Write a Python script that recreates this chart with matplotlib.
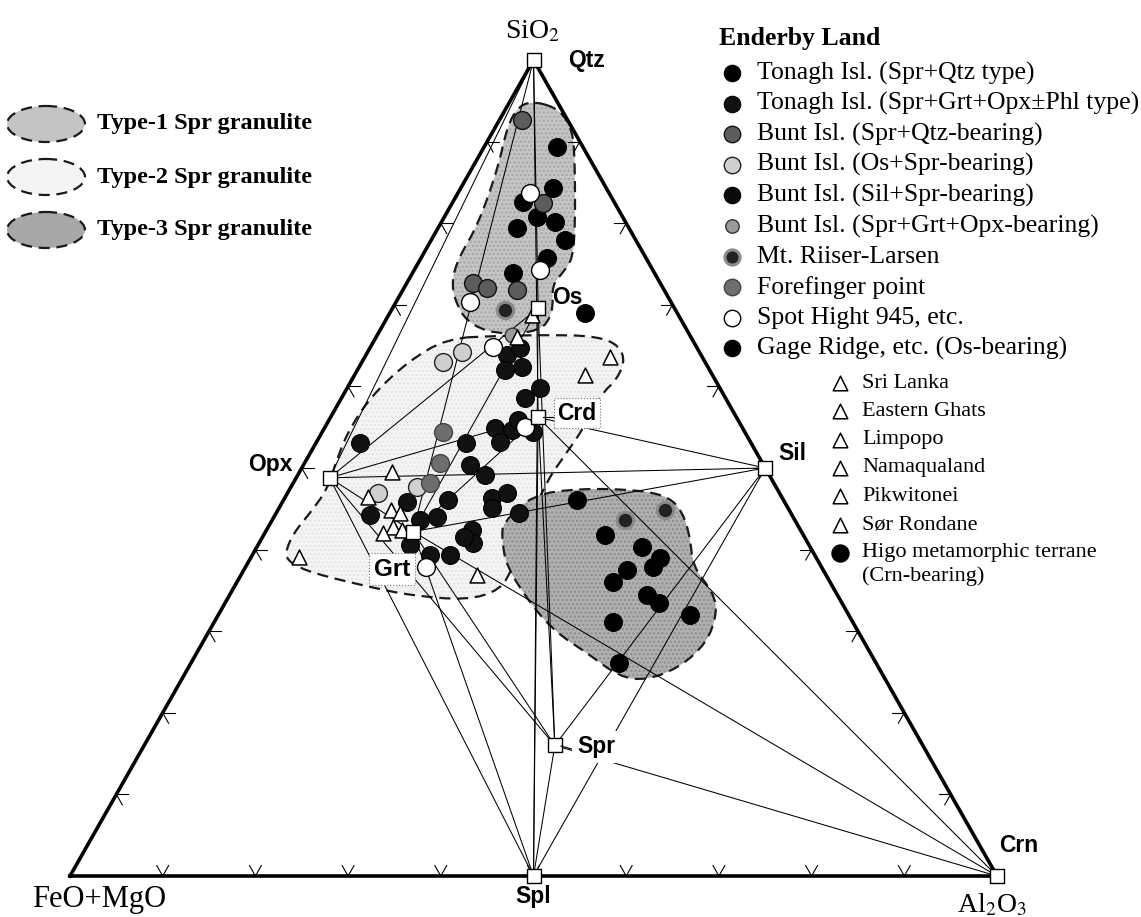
import numpy as np
import matplotlib
matplotlib.use("Agg")
import matplotlib.pyplot as plt
from matplotlib.patches import Polygon, Ellipse

plt.rcParams['font.family'] = ['Liberation Serif', 'DejaVu Serif']
plt.rcParams['mathtext.fontset'] = 'stix'
LABF = ['Liberation Sans', 'DejaVu Sans']

# triangle corners in figure pixels: FeO+MgO (left), Al2O3 (right), SiO2 (top)
L = np.array([70.0, 876.0])
R = np.array([997.0, 876.0])
T = np.array([533.5, 60.0])

def tern(si, al):
    si = np.asarray(si, float) / 100.0
    al = np.asarray(al, float) / 100.0
    fm = 1.0 - si - al
    return fm * L[0] + al * R[0] + si * T[0], fm * L[1] + al * R[1] + si * T[1]

# ---- data: (SiO2 %, Al2O3 %), FeO+MgO = rest ----
minerals = {
    "Qtz": (100.0, 0.0), "Opx": (48.8, 3.6), "Grt": (42.2, 15.9),
    "Os": (69.6, 15.7), "Crd": (56.2, 22.4), "Sil": (50.0, 50.0),
    "Spr": (16.0, 44.3), "Spl": (0.0, 50.0), "Crn": (0.0, 100.0),
}
tie_lines = [
    ("Qtz", "Opx"), ("Qtz", "Grt"), ("Qtz", "Os"), ("Qtz", "Crd"),
    ("Opx", "Os"), ("Opx", "Crd"), ("Opx", "Sil"), ("Opx", "Grt"), ("Opx", "Spr"), ("Opx", "Spl"),
    ("Grt", "Os"), ("Grt", "Crd"), ("Grt", "Sil"), ("Grt", "Spr"), ("Grt", "Spl"), ("Grt", "Crn"),
    ("Os", "Spl"), ("Os", "Spr"), ("Crd", "Spl"), ("Crd", "Spr"), ("Crd", "Sil"), ("Crd", "Crn"),
    ("Sil", "Spr"), ("Sil", "Spl"), ("Spr", "Spl"), ("Spr", "Crn"),
]

tonagh_qtz = [(89.3, 7.9), (84.3, 10.0), (82.6, 7.6), (80.8, 10.0), (80.1, 12.3),
              (79.4, 8.5), (77.9, 14.4), (75.7, 13.6), (73.9, 10.8)]
tonagh_grt = [(63.8, 15.2), (64.7, 16.2), (62.0, 15.9), (62.4, 17.6), (59.8, 20.8),
              (58.6, 19.8), (54.9, 18.4), (54.7, 20.3), (55.9, 20.4), (54.4, 22.7),
              (53.2, 19.8), (53.1, 16.2), (53.1, 4.7), (50.4, 17.9), (49.1, 20.2),
              (45.8, 13.5), (46.1, 17.7), (46.3, 22.4), (46.9, 23.7), (44.5, 26.2),
              (45.1, 23.0), (44.2, 10.3), (44.0, 17.6), (43.6, 16.0), (42.4, 22.2),
              (40.8, 23.1), (41.5, 21.8), (40.6, 16.4), (39.3, 19.2), (39.3, 21.3)]
bunt_qtz = [(92.6, 2.5), (82.5, 9.8), (72.7, 7.1), (72.1, 8.9), (71.8, 12.3)]
bunt_os = [(64.2, 10.2), (63.0, 8.7), (47.7, 13.6), (46.9, 9.8)]
bunt_grt = [(66.3, 14.5)]
riiser = [(69.4, 12.2), (43.6, 38.1), (44.8, 41.8)]
forefinger = [(54.4, 13.0), (50.6, 14.6), (48.2, 14.7)]
spot = [(83.7, 7.8), (74.3, 13.5), (70.3, 8.0), (64.8, 13.2), (55.0, 21.6), (37.9, 19.5)]
gage = [(69.0, 21.1)]
other_terranes = [(68.8, 15.4), (66.0, 15.2), (61.4, 24.9), (63.6, 26.4), (49.5, 10.0),
                  (46.4, 8.9), (44.9, 12.2), (44.5, 13.3), (42.8, 13.4), (42.0, 12.8),
                  (42.4, 14.6), (36.9, 25.5), (39.1, 5.2)]
higo = [(46.1, 31.6), (41.8, 36.8), (40.3, 41.6), (39.0, 44.1), (37.9, 43.9), (37.5, 41.3),
        (36.0, 40.6), (34.4, 45.0), (33.5, 46.8), (32.0, 50.9), (31.1, 43.0), (26.1, 46.2)]

type1_field = [(94.9, 2.9), (93.9, 5.9), (91.4, 8.5), (87.7, 10.6), (80.4, 14.3), (75.7, 16.4),
               (74.0, 16.2), (72.4, 15.8), (69.0, 17.6), (66.7, 17.35), (66.4, 12.6),
               (67.9, 8.85), (70.6, 6.2), (73.0, 4.7), (75.7, 4.05), (79.8, 4.1),
               (86.5, 2.85), (92.0, 1.2), (94.5, 1.25)]
type2_field = [(65.9, 7.75), (66.2, 13.3), (66.3, 18.65), (66.2, 23.0), (65.4, 26.1), (63.5, 28.15),
               (61.0, 28.6), (58.9, 27.75), (54.7, 27.95), (51.6, 27.6), (48.5, 27.25),
               (43.6, 27.8), (40.0, 28.5), (37.9, 28.85), (35.05, 28.9), (33.8, 25.9),
               (34.4, 19.5), (35.4, 14.7), (37.1, 7.65), (38.4, 4.5), (39.6, 3.4),
               (42.0, 3.1), (44.5, 3.65), (47.3, 4.05), (50.4, 3.4), (54.3, 2.75),
               (58.7, 3.05), (63.0, 4.9)]
type3_field = [(43.3, 25.05), (46.7, 26.55), (47.5, 31.25), (47.3, 37.85), (46.4, 41.5),
               (44.5, 43.85), (41.5, 46.15), (37.9, 48.25), (34.7, 52.05), (32.2, 53.7),
               (28.6, 54.4), (25.6, 53.0), (24.0, 50.2), (24.4, 47.1), (27.3, 42.15),
               (29.8, 37.6), (33.0, 33.4), (37.9, 28.15), (41.2, 26.0)]

enderby_labels = ["Tonagh Isl. (Spr+Qtz type)", "Tonagh Isl. (Spr+Grt+Opx\u00b1Phl type)",
                  "Bunt Isl. (Spr+Qtz-bearing)", "Bunt Isl. (Os+Spr-bearing)",
                  "Bunt Isl. (Sil+Spr-bearing)", "Bunt Isl. (Spr+Grt+Opx-bearing)",
                  "Mt. Riiser-Larsen", "Forefinger point", "Spot Hight 945, etc.",
                  "Gage Ridge, etc. (Os-bearing)"]
other_labels = ["Sri Lanka", "Eastern Ghats", "Limpopo", "Namaqualand", "Pikwitonei", "S\u00f8r Rondane"]
field_labels = ["Type-1 Spr granulite", "Type-2 Spr granulite", "Type-3 Spr granulite"]

# marker styles
styles = {
    "tq": dict(c="#000000", edgecolors="#000000", linewidths=0.8, s=165),
    "tg": dict(c="#111111", edgecolors="#000000", linewidths=0.8, s=165),
    "bq": dict(c="#5c5c5c", edgecolors="#111111", linewidths=1.0, s=165),
    "bo": dict(c="#cfcfcf", edgecolors="#222222", linewidths=1.0, s=165),
    "bs": dict(c="#0a0a0a", edgecolors="#000000", linewidths=0.8, s=165),
    "bg": dict(c="#9a9a9a", edgecolors="#333333", linewidths=1.0, s=110),
    "mr": dict(c="#222222", edgecolors="#8a8a8a", linewidths=2.2, s=140),
    "ff": dict(c="#6e6e6e", edgecolors="#444444", linewidths=1.0, s=165),
    "sp": dict(c="#ffffff", edgecolors="#000000", linewidths=1.0, s=165),
    "gr": dict(c="#000000", edgecolors="#000000", linewidths=0.8, s=165),
}

fig = plt.figure(figsize=(11.41, 9.17), dpi=100)
ax = fig.add_axes([0, 0, 1, 1])
ax.set_xlim(0, 1141)
ax.set_ylim(917, 0)
ax.axis("off")


def smooth(pts, n=2):
    pts = np.asarray(pts, float)
    for _ in range(n):
        nxt = np.roll(pts, -1, axis=0)
        q = 0.75 * pts + 0.25 * nxt
        r = 0.25 * pts + 0.75 * nxt
        out = np.empty((2 * len(pts), 2))
        out[0::2] = q
        out[1::2] = r
        pts = out
    return pts


def draw_field(field, face, hatch_col, z):
    si, al = zip(*field)
    x, y = tern(si, al)
    pts = smooth(np.column_stack([x, y]))
    ax.add_patch(Polygon(pts, closed=True, facecolor=face, edgecolor=hatch_col,
                         hatch="....", linewidth=0, zorder=z))
    ax.add_patch(Polygon(pts, closed=True, fill=False, edgecolor="#1a1a1a",
                         linewidth=1.6, linestyle=(0, (5, 3)), zorder=z + 0.1))


draw_field(type2_field, "#f4f4f4", "#e4e4e4", 1)
draw_field(type1_field, "#c4c4c4", "#a6a6a6", 2)
draw_field(type3_field, "#b0b0b0", "#8c8c8c", 3)

# triangle frame
frame = np.array([L, R, T, L])
ax.plot(frame[:, 0], frame[:, 1], color="black", lw=2.6, zorder=6, solid_joinstyle="miter")

# ticks every 10 %
dl = (T - L) / np.linalg.norm(T - L)
dr = (T - R) / np.linalg.norm(T - R)
tl = 12
for k in range(1, 10):
    f = k / 10
    p = L + f * (R - L)
    for d in (dl, dr):
        ax.plot([p[0], p[0] + tl * d[0]], [p[1], p[1] + tl * d[1]], color="black", lw=0.8, zorder=6)
    p = L + f * (T - L)
    for d in (np.array([1.0, 0.0]), -dr):
        ax.plot([p[0], p[0] + tl * d[0]], [p[1], p[1] + tl * d[1]], color="black", lw=0.8, zorder=6)
    p = R + f * (T - R)
    for d in (np.array([-1.0, 0.0]), -dl):
        ax.plot([p[0], p[0] + tl * d[0]], [p[1], p[1] + tl * d[1]], color="black", lw=0.8, zorder=6)

# tie lines
for a, b in tie_lines:
    xa, ya = tern(*minerals[a])
    xb, yb = tern(*minerals[b])
    ax.plot([xa, xb], [ya, yb], color="black", lw=0.75, zorder=5)

# samples
def pts(lst):
    si, al = zip(*lst)
    return tern(si, al)

for lst, key in [(tonagh_qtz, "tq"), (tonagh_grt, "tg"), (bunt_qtz, "bq"), (bunt_os, "bo"),
                 (bunt_grt, "bg"), (riiser, "mr"), (forefinger, "ff"), (spot, "sp"),
                 (gage, "gr"), (higo, "tq")]:
    x, y = pts(lst)
    ax.scatter(x, y, zorder=8, **styles[key])
x, y = pts(other_terranes)
ax.scatter(x, y, marker="^", s=115, facecolors="white", edgecolors="black", linewidths=1.1, zorder=9)

# mineral squares
for name, (si, al) in minerals.items():
    x, y = tern(si, al)
    ax.scatter([x], [y], marker="s", s=100, facecolors="white", edgecolors="black",
               linewidths=1.0, zorder=10)

lab = dict(fontfamily=LABF, fontweight="bold", fontsize=16.5, zorder=11, va="center")
ax.text(568, 61, "Qtz", ha="left", **lab)
ax.text(552, 297, "Os", ha="left", **lab)
ax.text(557, 413, "Crd", ha="left", bbox=dict(boxstyle="square,pad=0.15", fc="white",
        ec="#777777", ls=":", lw=0.8), **lab)
ax.plot([543, 555], [417, 417], color="black", lw=0.8, zorder=10)
ax.text(293, 465, "Opx", ha="right", **lab)
ax.text(778, 454, "Sil", ha="left", **lab)
ax.text(392, 569, "Grt", ha="center", bbox=dict(boxstyle="square,pad=0.2", fc="white",
        ec="#777777", ls=":", lw=0.8), fontsize=17.5,
        **{k: v for k, v in lab.items() if k != "fontsize"})
ax.text(577, 747, "Spr", ha="left", bbox=dict(boxstyle="square,pad=0.2", fc="white", ec="none"), **lab)
ax.plot([561, 575], [746, 750], color="black", lw=0.8, zorder=10)
ax.text(533, 896, "Spl", ha="center", **lab)
ax.text(1019, 845, "Crn", ha="center", **lab)

ax.text(532, 32, "SiO$_2$", ha="center", va="center", fontsize=20)
ax.text(32, 900, "FeO+MgO", ha="left", va="center", fontsize=22)
ax.text(1027, 905, "Al$_2$O$_3$", ha="right", va="center", fontsize=20)

# field legend (upper left)
for i, (txt, face) in enumerate(zip(field_labels, ["#c4c4c4", "#f4f4f4", "#a8a8a8"])):
    cy = 124 + 53 * i
    ax.add_patch(Ellipse((46, cy), 78, 36, facecolor=face, edgecolor="#1a1a1a",
                         lw=1.6, ls=(0, (5, 3)), zorder=6))
    ax.text(97, cy, txt, ha="left", va="center", fontsize=17.5, fontweight="bold")

# Enderby Land legend
ax.text(719, 38, "Enderby Land", ha="left", va="center", fontsize=18.5, fontweight="bold")
keys = ["tq", "tg", "bq", "bo", "bs", "bg", "mr", "ff", "sp", "gr"]
for i, (txt, key) in enumerate(zip(enderby_labels, keys)):
    cy = 73 + 30.6 * i
    st = dict(styles[key])
    st["s"] = st["s"] * 0.85
    ax.scatter([732], [cy], zorder=8, **st)
    ax.text(757, cy, txt, ha="left", va="center", fontsize=18.5)

# other terranes legend
for i, txt in enumerate(other_labels):
    cy = 383 + 28.3 * i
    ax.scatter([840], [cy], marker="^", s=110, facecolors="white", edgecolors="black",
               linewidths=1.1, zorder=8)
    ax.text(862, cy, txt, ha="left", va="center", fontsize=16)
ax.scatter([840], [553], s=150, c="black", zorder=8)
ax.text(862, 553, "Higo metamorphic terrane", ha="left", va="center", fontsize=16)
ax.text(862, 576, "(Crn-bearing)", ha="left", va="center", fontsize=16)

fig.savefig("out.png", dpi=100)
